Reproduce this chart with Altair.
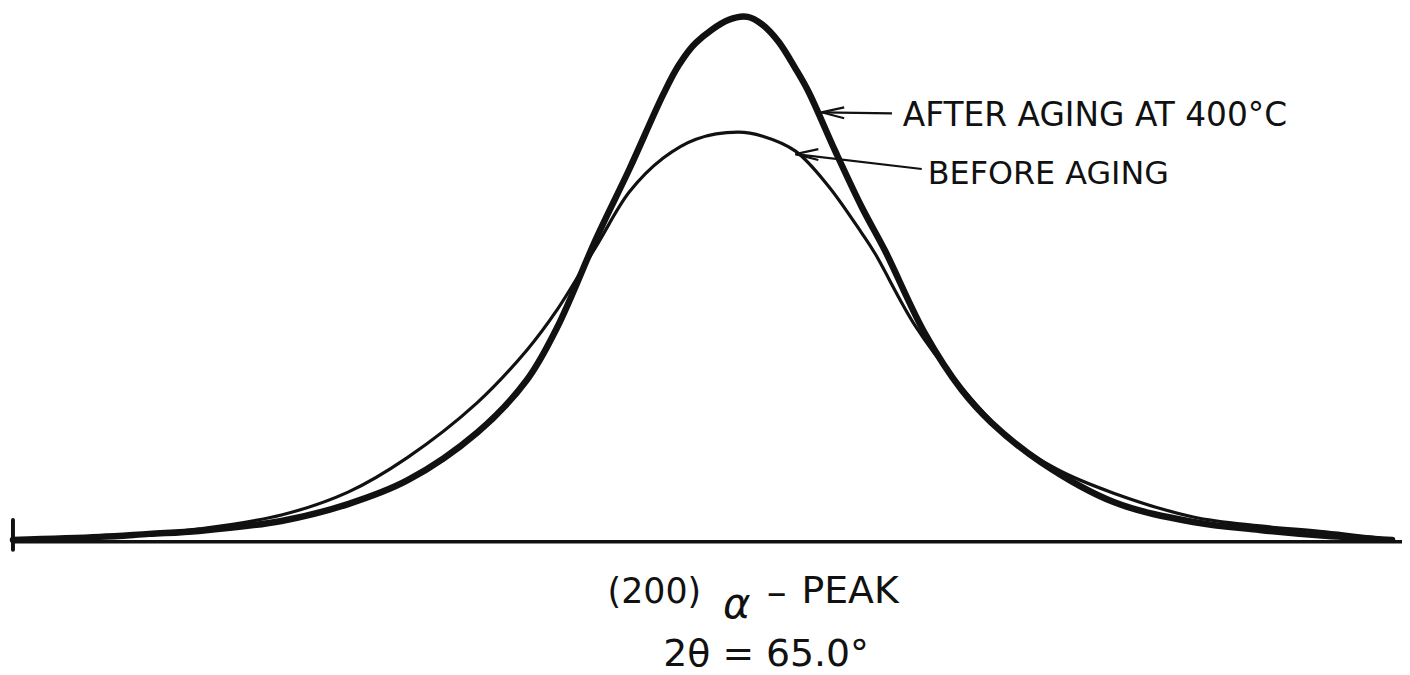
import altair as alt
import pandas as pd

# ---- data (x: horizontal position units, y: intensity units above baseline) ----
after_x = [13, 100, 150, 200, 283, 350, 410, 480, 530, 560, 600, 633, 667, 683, 700, 733, 752,
           767, 783, 800, 813, 840, 867, 890, 930, 967, 997, 1047, 1120, 1200, 1267, 1333, 1400]
after_y = [2, 5, 8, 11, 21, 38, 62, 110, 163, 215, 306, 375, 450, 480, 502, 525, 528,
           520, 503, 476, 453, 393, 336, 293, 210, 153, 120, 80, 40, 20, 12, 6, 2]

before_x = [13, 100, 150, 200, 283, 350, 410, 480, 530, 560, 600, 633, 667, 700, 742, 767,
            800, 833, 867, 880, 920, 963, 1013, 1063, 1120, 1200, 1267, 1333, 1400]
before_y = [1, 5, 8, 13, 27, 50, 85, 140, 193, 233, 298, 352, 386, 405, 412, 408,
            393, 358, 310, 290, 218, 160, 106, 73, 49, 25, 16, 10, 2]

after_label = "AFTER AGING AT 400°C"
before_label = "BEFORE AGING"
peak_parts = ["(200)", "α", "–", "PEAK"]
angle_label = "2θ = 65.0°"

FONT = "DejaVu Sans"
INK = "#111111"

xs = alt.Scale(domain=[8, 1410], nice=False, zero=False)
ys = alt.Scale(domain=[-124, 535], nice=False, zero=False)

after_df = pd.DataFrame({"x": after_x, "y": after_y})
before_df = pd.DataFrame({"x": before_x, "y": before_y})


def curve(df, width):
    return alt.Chart(df).mark_line(
        color=INK, strokeWidth=width, interpolate="catmull-rom", strokeCap="round"
    ).encode(
        x=alt.X("x:Q", scale=xs, axis=None),
        y=alt.Y("y:Q", scale=ys, axis=None),
    )


after_line = curve(after_df, 6.5)
before_line = curve(before_df, 3.2)

# baseline and left end tick
base_df = pd.DataFrame({"x": [13], "x2": [1410], "y": [0]})
baseline = alt.Chart(base_df).mark_rule(color=INK, strokeWidth=3.5).encode(
    x=alt.X("x:Q", scale=xs, axis=None), x2="x2:Q",
    y=alt.Y("y:Q", scale=ys, axis=None),
)
tick_df = pd.DataFrame({"x": [13], "y": [-8], "y2": [22]})
left_tick = alt.Chart(tick_df).mark_rule(color=INK, strokeWidth=4, strokeCap="round").encode(
    x=alt.X("x:Q", scale=xs, axis=None),
    y=alt.Y("y:Q", scale=ys, axis=None), y2="y2:Q",
)

# annotation arrows (leader line + open arrow head)
arrow_df = pd.DataFrame({
    "g": ["a1", "a1", "a2", "a2", "a2", "b1", "b1", "b2", "b2", "b2"],
    "o": [0, 1, 0, 1, 2, 0, 1, 0, 1, 2],
    "x": [897, 826, 849, 826, 849, 927, 800, 823, 800, 823],
    "y": [431, 432, 437, 432, 426, 375, 390, 395, 390, 384],
})
arrows = alt.Chart(arrow_df).mark_line(color=INK, strokeWidth=2.2).encode(
    x=alt.X("x:Q", scale=xs, axis=None),
    y=alt.Y("y:Q", scale=ys, axis=None),
    detail="g:N", order="o:Q",
)


def label(text, x, y, size, style="normal"):
    df = pd.DataFrame({"x": [x], "y": [y], "t": [text]})
    return alt.Chart(df).mark_text(
        font=FONT, fontSize=size, fontStyle=style, color=INK,
        align="left", baseline="alphabetic",
    ).encode(
        x=alt.X("x:Q", scale=xs, axis=None),
        y=alt.Y("y:Q", scale=ys, axis=None),
        text="t:N",
    )


texts = [
    label(after_label, 908, 418, 33),
    label(before_label, 933, 360, 32),
    label(peak_parts[0], 611, -62, 35),
    label(peak_parts[1], 727, -77, 42, "italic"),
    label(peak_parts[2], 771, -64, 40),
    label(peak_parts[3], 806, -62, 38),
    label(angle_label, 667, -125, 38),
]

chart = alt.layer(baseline, left_tick, before_line, after_line, arrows, *texts).properties(
    width=1402, height=659,
    background="white",
    autosize=alt.AutoSizeParams(type="none"),
    padding={"left": 0, "top": 0, "right": 0, "bottom": 8},
).configure_view(strokeWidth=0, stroke=None)

chart.save("out.html", embed_options={"renderer": "svg", "actions": False})
